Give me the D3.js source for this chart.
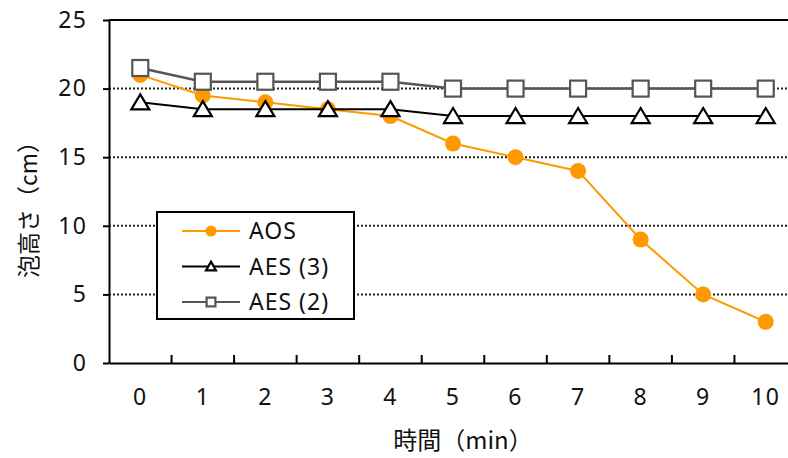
<!DOCTYPE html>
<html><head><meta charset="utf-8">
<script src="https://cdn.jsdelivr.net/npm/d3@7"></script>
<style>body{margin:0;background:#fff}svg{display:block}</style>
</head><body><svg id="c" width="788" height="458"></svg>
<script>
const categories = ["0","1","2","3","4","5","6","7","8","9","10"];
const aos  = [21, 19.5, 19, 18.5, 18, 16, 15, 14, 9, 5, 3];
const aes3 = [19, 18.5, 18.5, 18.5, 18.5, 18, 18, 18, 18, 18, 18];
const aes2 = [21.5, 20.5, 20.5, 20.5, 20.5, 20, 20, 20, 20, 20, 20];
const yTicks = [0, 5, 10, 15, 20, 25];
const seriesNames = ["AOS", "AES (3)", "AES (2)"];

const font = "'Noto Sans','Noto Sans CJK JP',sans-serif";
const cjk = "'Noto Sans CJK JP',sans-serif";
const svg = d3.select("#c");
const L = 109, R = 797, T = 20, B = 363;
const x = d3.scaleBand().domain(categories).range([L, R]);
const y = d3.scaleLinear().domain([0, 25]).range([B, T]);
const cx = d => x(d) + x.bandwidth()/2;

// gridlines
svg.append("g").selectAll("line").data(yTicks.filter(v => v>0 && v<25)).join("line")
  .attr("x1", L).attr("x2", R).attr("y1", d=>y(d)).attr("y2", d=>y(d))
  .attr("stroke", "#222").attr("stroke-width", 2).attr("stroke-dasharray", "2,2");

// top border
svg.append("line").attr("x1", L).attr("x2", R).attr("y1", T).attr("y2", T)
  .attr("stroke", "#000").attr("stroke-width", 2);

// y axis
const ya = svg.append("g").attr("transform", `translate(${L},0)`)
  .call(d3.axisLeft(y).tickValues(yTicks).tickSize(6).tickPadding(16).tickSizeOuter(0));
ya.select(".domain").attr("stroke", "#000").attr("stroke-width", 2);
ya.selectAll(".tick line").attr("stroke", "#000").attr("stroke-width", 2);
ya.selectAll("text").attr("font-family", font).attr("font-size", 23).attr("letter-spacing", 1.2).attr("fill", "#111");

// x axis
const xa = svg.append("g").attr("transform", `translate(0,${B})`)
  .call(d3.axisBottom(x).tickSize(0).tickPadding(26));
xa.select(".domain").attr("stroke", "#000").attr("stroke-width", 2);
xa.selectAll("text").attr("font-family", font).attr("font-size", 23).attr("letter-spacing", 1.2).attr("fill", "#111");
// boundary ticks (inward)
svg.append("g").selectAll("line").data(categories.slice(1)).join("line")
  .attr("x1", d=>x(d)).attr("x2", d=>x(d)).attr("y1", B).attr("y2", B-8)
  .attr("stroke", "#000").attr("stroke-width", 2);

// titles
svg.append("text").attr("transform", `translate(37,204) rotate(-90)`)
  .attr("text-anchor", "middle").attr("font-family", cjk).attr("font-size", 23).attr("fill", "#111")
  .text("泡高さ（cm）");
svg.append("text").attr("x", 463).attr("y", 449).attr("text-anchor", "middle")
  .attr("font-family", cjk).attr("font-size", 24).attr("fill", "#111").text("時間（min）");

const line = d3.line().x((d,i)=>cx(categories[i])).y(d=>y(d));
const styles = [
  {data: aos, stroke: "#FF9900", sw: 2},
  {data: aes3, stroke: "#000", sw: 2},
  {data: aes2, stroke: "#555", sw: 2.5}
];
function marker(g, type, px, py, s) {
  if (type === 0) {
    g.append("circle").attr("cx", px).attr("cy", py).attr("r", 8*s).attr("fill", "#FF9900");
  } else if (type === 1) {
    const w = 9*s, h = 14*s;
    g.append("path").attr("d", `M${px},${py-h/2-1}L${px+w},${py+h/2}L${px-w},${py+h/2}Z`)
      .attr("fill", "#fff").attr("stroke", "#000").attr("stroke-width", 2.2);
  } else {
    const a = 8*s;
    g.append("rect").attr("x", px-a).attr("y", py-a).attr("width", 2*a).attr("height", 2*a)
      .attr("fill", "#fff").attr("stroke", "#555").attr("stroke-width", 2.2);
  }
}
styles.forEach((st, k) => {
  const g = svg.append("g");
  g.append("path").attr("d", line(st.data)).attr("fill", "none")
    .attr("stroke", st.stroke).attr("stroke-width", st.sw);
  st.data.forEach((v, i) => marker(g, k, cx(categories[i]), y(v), 1));
});

// legend
const lg = svg.append("g");
lg.append("rect").attr("x", 157).attr("y", 212).attr("width", 197).attr("height", 107)
  .attr("fill", "#fff").attr("stroke", "#000").attr("stroke-width", 2);
seriesNames.forEach((n, k) => {
  const ly = 231 + k*35.5;
  lg.append("line").attr("x1", 182).attr("x2", 240).attr("y1", ly).attr("y2", ly)
    .attr("stroke", styles[k].stroke).attr("stroke-width", 2);
  marker(lg, k, 211, ly, k===0 ? 0.7 : 0.55);
  lg.append("text").attr("x", 249).attr("y", ly + 8).attr("font-family", font)
    .attr("font-size", 23).attr("letter-spacing", 1).attr("fill", "#111").text(n);
});
</script></body></html>
